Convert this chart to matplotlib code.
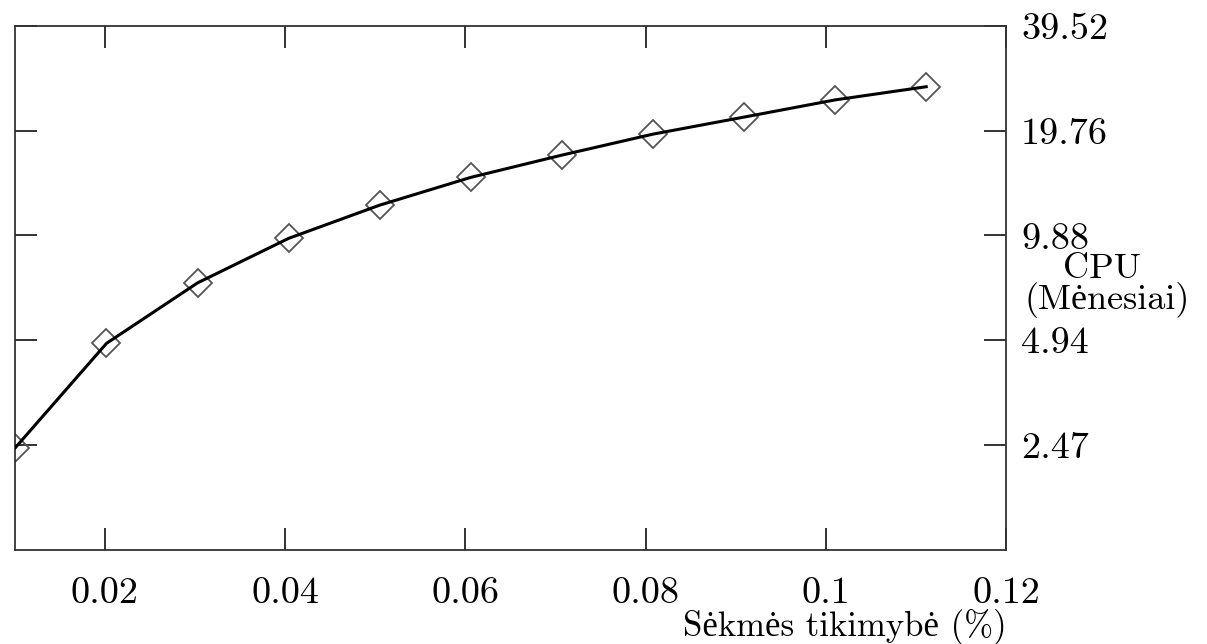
import matplotlib
matplotlib.use("Agg")
import matplotlib.pyplot as plt
from matplotlib.ticker import FixedLocator, FixedFormatter, NullLocator

# Duomenys nuskaityti nuo grafiko
prob = [0.0101, 0.0202, 0.0303, 0.0404, 0.0505, 0.0606,
        0.0707, 0.0808, 0.0909, 0.1010, 0.1111]
cpu_months = [2.43, 4.84, 7.22, 9.69, 12.07, 14.50,
              16.80, 19.30, 21.60, 24.20, 26.40]

x_ticks = [0.02, 0.04, 0.06, 0.08, 0.10, 0.12]
x_tick_labels = ["0.02", "0.04", "0.06", "0.08", "0.1", "0.12"]
y_ticks = [2.47, 4.94, 9.88, 19.76, 39.52]
y_tick_labels = ["2.47", "4.94", "9.88", "19.76", "39.52"]

plt.rcParams['font.family'] = ['cmr10', 'Liberation Serif']
plt.rcParams['axes.unicode_minus'] = False

W, H = 1207, 644
fig = plt.figure(figsize=(W / 100, H / 100), dpi=100)
ax = fig.add_axes([14.5 / W, 1 - 550 / H, (1006.5 - 14.5) / W, (550 - 25.7) / H])

# Taškai (rombai) ir linija virš jų
ax.plot(prob, cpu_months, linestyle='none', marker='D', markersize=14.5,
        markerfacecolor='none', markeredgecolor='#555555', markeredgewidth=1.3, zorder=2)
ax.plot(prob, cpu_months, color='black', linewidth=2.2, zorder=3)

ax.set_yscale('log', base=2)
ax.set_xlim(0.01, 0.12)
ax.set_ylim(1.235, 39.52)

ax.xaxis.set_major_locator(FixedLocator(x_ticks))
ax.xaxis.set_major_formatter(FixedFormatter(x_tick_labels))
ax.xaxis.set_minor_locator(NullLocator())
ax.yaxis.set_major_locator(FixedLocator(y_ticks))
ax.yaxis.set_major_formatter(FixedFormatter(y_tick_labels))
ax.yaxis.set_minor_locator(NullLocator())

for s in ax.spines.values():
    s.set_color('#333333')
    s.set_linewidth(1.3)

ax.tick_params(axis='x', direction='in', length=16, width=1.3, color='#222222',
               top=True, bottom=True, labelsize=27.5, pad=19)
ax.tick_params(axis='y', direction='in', length=16, width=1.3, color='#222222',
               left=True, right=True, labelleft=False, labelright=True,
               labelsize=27.5, pad=10.5)

# Ašių pavadinimai
fig.text(1007 / W, 1 - 636 / H, "Sėkmės tikimybė (%)", ha='right', va='baseline', fontsize=25)
fig.text(1102 / W, 1 - 278 / H, "CPU", ha='center', va='baseline', fontsize=26)
fig.text(1107.5 / W, 1 - 309.5 / H, "(Mėnesiai)", ha='center', va='baseline', fontsize=26)

fig.savefig("out.png", dpi=100)
